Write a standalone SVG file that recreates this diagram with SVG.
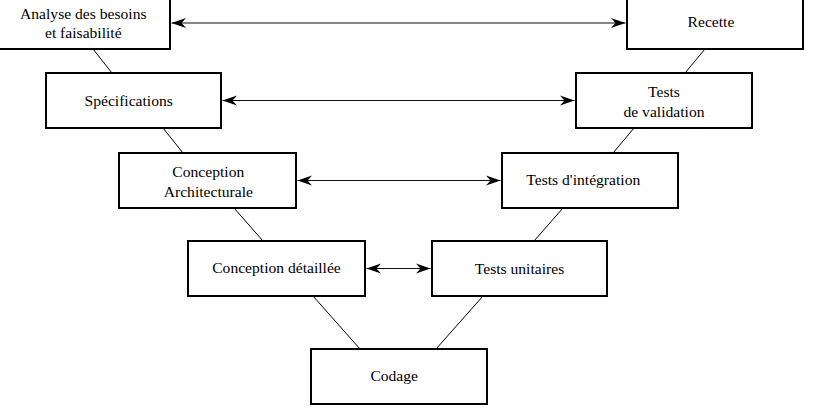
<svg xmlns="http://www.w3.org/2000/svg" width="828" height="410" viewBox="0 0 828 410">
<style>
.box{fill:#fff;stroke:#000;stroke-width:2}
.lbl{font-family:"Liberation Serif","Times New Roman",serif;font-size:15.6px;fill:#000;text-anchor:middle}
.link{stroke:#000;stroke-width:1;fill:none}
.arr{stroke:#111;stroke-width:1.2;fill:none;marker-start:url(#ah);marker-end:url(#ah)}
</style>
<defs>
<marker id="ah" viewBox="0 0 15 11" refX="14.5" refY="5.5" markerWidth="15" markerHeight="11" orient="auto-start-reverse" markerUnits="userSpaceOnUse">
<path d="M0,0.5 L14.5,5.5 L0,10.5 L4.5,5.5 Z" fill="#000"/>
</marker>
</defs>
<rect width="828" height="410" fill="#fff"/>
<g id="connectors">
<line class="link" x1="93" y1="49" x2="112" y2="73"/>
<line class="link" x1="163" y1="128" x2="183" y2="153"/>
<line class="link" x1="234" y1="208" x2="263" y2="241"/>
<line class="link" x1="313" y1="296" x2="360" y2="349"/>
<line class="link" x1="436" y1="349" x2="483" y2="296"/>
<line class="link" x1="534" y1="241" x2="563" y2="208"/>
<line class="link" x1="613" y1="153" x2="634" y2="128"/>
<line class="link" x1="685" y1="73" x2="705" y2="49"/>
<line class="arr" x1="171.5" y1="23" x2="625.5" y2="23"/>
<line class="arr" x1="222.5" y1="100.5" x2="574.5" y2="100.5"/>
<line class="arr" x1="297.5" y1="180.5" x2="500.5" y2="180.5"/>
<line class="arr" x1="366.5" y1="268.5" x2="430.5" y2="268.5"/>
</g>
<g id="analyse">
<rect class="box" x="-6" y="-6" width="176" height="55"/>
<text class="lbl" x="83.3" y="18.5">Analyse des besoins</text>
<text class="lbl" x="83.3" y="37.5">et faisabilité</text>
</g>
<g id="recette">
<rect class="box" x="627" y="-6" width="176" height="55"/>
<text class="lbl" x="711" y="27">Recette</text>
</g>
<g id="specifications">
<rect class="box" x="46" y="73" width="175" height="55"/>
<text class="lbl" x="128.7" y="106">Spécifications</text>
</g>
<g id="validation">
<rect class="box" x="576" y="73" width="176" height="55"/>
<text class="lbl" x="664" y="97">Tests</text>
<text class="lbl" x="664" y="116.5">de validation</text>
</g>
<g id="architecturale">
<rect class="box" x="119" y="153" width="177" height="55"/>
<text class="lbl" x="208.3" y="176.7">Conception</text>
<text class="lbl" x="208.3" y="196.5">Architecturale</text>
</g>
<g id="integration">
<rect class="box" x="502" y="153" width="176" height="55"/>
<text class="lbl" x="583.3" y="185.3">Tests d'intégration</text>
</g>
<g id="detaillee">
<rect class="box" x="188" y="241" width="177" height="55"/>
<text class="lbl" x="276.5" y="273">Conception détaillée</text>
</g>
<g id="unitaires">
<rect class="box" x="432" y="241" width="175" height="55"/>
<text class="lbl" x="519.5" y="274">Tests unitaires</text>
</g>
<g id="codage">
<rect class="box" x="311" y="349" width="176" height="55"/>
<text class="lbl" x="394.2" y="380.5">Codage</text>
</g>
</svg>
